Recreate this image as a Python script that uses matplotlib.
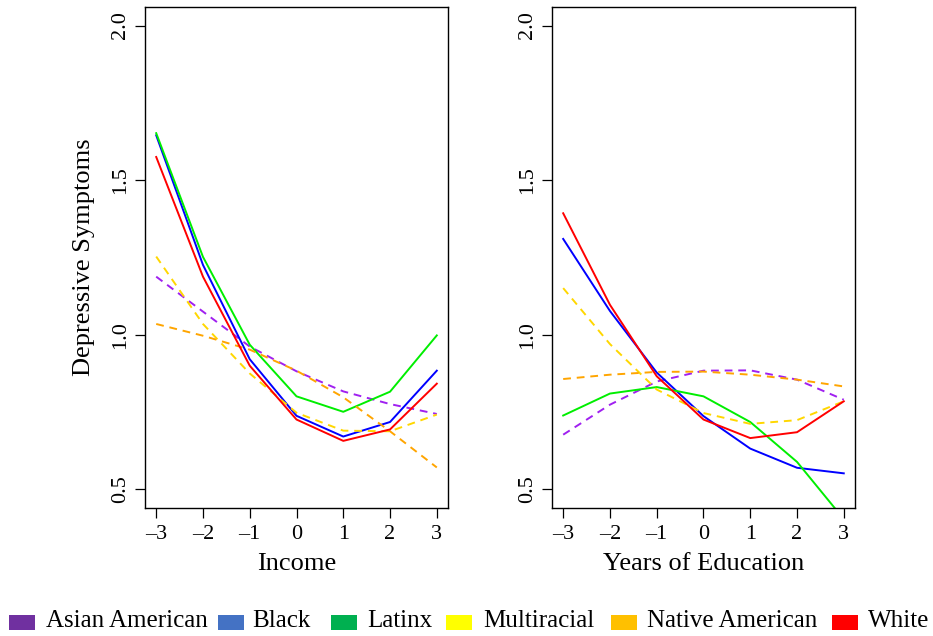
import matplotlib
matplotlib.use("Agg")
import matplotlib.pyplot as plt
from matplotlib.patches import Rectangle

plt.rcParams['font.family'] = ['Liberation Serif', 'DejaVu Serif']

# --- data ---
x = [-3, -2, -1, 0, 1, 2, 3]

groups = ["Asian American", "Black", "Latinx", "Multiracial", "Native American", "White"]

# Income panel
inc_asian = [1.188, 1.075, 0.962, 0.882, 0.817, 0.776, 0.744]
inc_black = [1.645, 1.226, 0.921, 0.738, 0.671, 0.718, 0.884]
inc_latinx = [1.652, 1.252, 0.968, 0.801, 0.751, 0.816, 0.998]
inc_multi = [1.253, 1.035, 0.875, 0.748, 0.690, 0.688, 0.742]
inc_native = [1.035, 0.997, 0.952, 0.884, 0.798, 0.688, 0.571]
inc_white = [1.575, 1.188, 0.900, 0.726, 0.657, 0.694, 0.842]

# Education panel
edu_asian = [0.677, 0.774, 0.849, 0.884, 0.885, 0.855, 0.790]
edu_black = [1.310, 1.077, 0.878, 0.737, 0.632, 0.570, 0.552]
edu_latinx = [0.739, 0.810, 0.831, 0.801, 0.718, 0.589, 0.404]
edu_multi = [1.151, 0.970, 0.823, 0.747, 0.712, 0.724, 0.785]
edu_native = [0.857, 0.871, 0.880, 0.881, 0.871, 0.855, 0.833]
edu_white = [1.393, 1.097, 0.866, 0.726, 0.666, 0.685, 0.785]

y_ticks = [0.5, 1.0, 1.5, 2.0]
y_tick_labels = ["0.5", "1.0", "1.5", "2.0"]

line_colors = ["#A020F0", "#0000FF", "#00EE00", "#FFD700", "#FFA500", "#FF0000"]
line_styles = [(0, (4, 3)), "-", "-", (0, (4, 3)), (0, (4, 3)), "-"]
legend_colors = ["#7030A0", "#4472C4", "#00B050", "#FFFF00", "#FFC000", "#FF0000"]

fig = plt.figure(figsize=(9.33, 6.36), dpi=100)
ax1 = fig.add_axes([0.1554, 0.2013, 0.3248, 0.7877])
ax2 = fig.add_axes([0.5916, 0.2013, 0.3248, 0.7877])

panels = [
    (ax1, [inc_asian, inc_black, inc_latinx, inc_multi, inc_native, inc_white], "Income"),
    (ax2, [edu_asian, edu_black, edu_latinx, edu_multi, edu_native, edu_white], "Years of Education"),
]

for ax, series, xlabel in panels:
    for vals, c, ls in zip(series, line_colors, line_styles):
        ax.plot(x, vals, color=c, linestyle=ls, linewidth=1.4)
    ax.set_xlim(-3.24, 3.24)
    ax.set_ylim(0.44, 2.06)
    ax.set_xticks(x)
    ax.set_xticklabels([str(v).replace("-", "\u2013") for v in x])
    ax.set_yticks(y_ticks)
    ax.set_yticklabels(y_tick_labels, rotation=90, va="center")
    ax.tick_params(axis="both", direction="out", length=7, width=0.9, labelsize=16)
    ax.tick_params(axis="x", pad=5)
    ax.tick_params(axis="y", pad=4)
    for sp in ax.spines.values():
        sp.set_linewidth(1.0)
        sp.set_color("black")
    ax.set_xlabel(xlabel, fontsize=19, labelpad=7)

ax1.set_ylabel("Depressive Symptoms", fontsize=19, labelpad=11)

# legend strip along the bottom
sq_x = [9, 218, 331, 446, 611, 832]
txt_x = [46, 252, 367, 483, 647, 868]
for lbl, c, sx, tx in zip(groups, legend_colors, sq_x, txt_x):
    fig.patches.append(Rectangle((sx / 933, 1 - 630 / 636), 26 / 933, 15 / 636,
                                 transform=fig.transFigure, facecolor=c,
                                 edgecolor="none"))
    fig.text(tx / 933, 1 - 621 / 636, lbl, fontsize=18, va="center", ha="left")

fig.savefig("out.png", dpi=100)
